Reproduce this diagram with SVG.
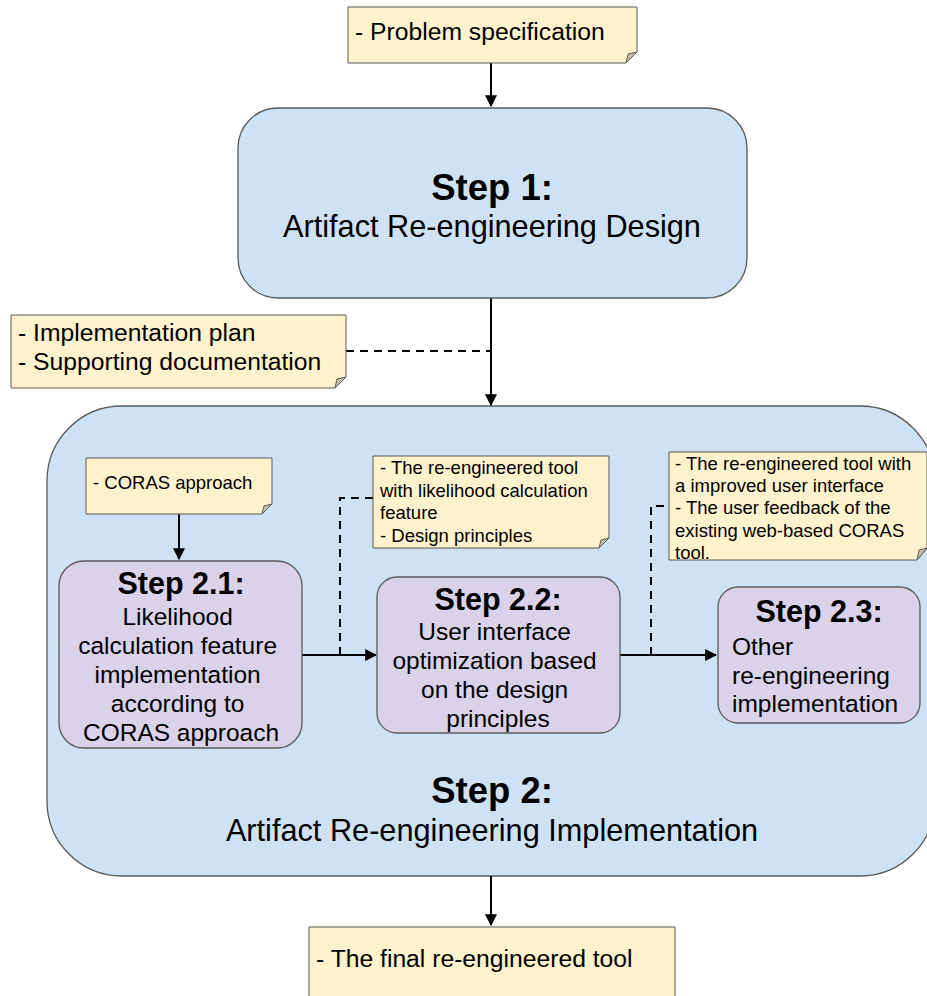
<svg xmlns="http://www.w3.org/2000/svg" width="927" height="996" viewBox="0 0 927 996">
  <style>
    text { font-family: "Liberation Sans", Arial, sans-serif; fill: #000; }
    .blue { fill: #cfe2f3; stroke: #595959; stroke-width: 1.3; }
    .purple { fill: #d9d2e9; stroke: #595959; stroke-width: 1.3; }
    .note { fill: #fff2cc; stroke: #595959; stroke-width: 1; }
    .fold { fill: #c9bfa3; stroke: #595959; stroke-width: 1; }
    .edge { fill: none; stroke: #000; stroke-width: 2; }
    .dash { fill: none; stroke: #000; stroke-width: 2; stroke-dasharray: 8 6; }
    .b { font-weight: bold; }
    .big { font-size: 24.7px; }
    .small { font-size: 18.5px; }
    .h1 { font-size: 36.5px; font-weight: bold; }
    .t1 { font-size: 30.7px; }
    .h2 { font-size: 30.5px; font-weight: bold; }
    .t2 { font-size: 24.5px; }
  </style>
  <defs>
    <marker id="arrow" viewBox="0 0 10 10" refX="9" refY="5" markerWidth="6" markerHeight="6" orient="auto" markerUnits="strokeWidth">
      <path d="M0,0 L10,5 L0,10 z" fill="#000"/>
    </marker>
  </defs>

  <rect width="927" height="996" fill="#fff"/>

  <!-- large container for step 2 -->
  <g id="step2">
    <rect class="blue" x="47" y="406" width="888" height="470" rx="75" ry="75"/>
    <text class="h1" x="492" y="803" text-anchor="middle">Step 2:</text>
    <text class="t1" x="492" y="841" text-anchor="middle">Artifact Re-engineering Implementation</text>
  </g>

  <g id="connectors">
    <path class="edge" d="M491,63 V106" marker-end="url(#arrow)"/>
    <path class="edge" d="M491,298 V405" marker-end="url(#arrow)"/>
    <path class="dash" d="M346,351 H490"/>
    <path class="edge" d="M179,514 V559" marker-end="url(#arrow)"/>
    <path class="edge" d="M302,655 H376" marker-end="url(#arrow)"/>
    <path class="dash" d="M340,655 V498 H373"/>
    <path class="edge" d="M620,655 H716" marker-end="url(#arrow)"/>
    <path class="dash" d="M651,655 V506 H669"/>
    <path class="edge" d="M491,876 V925" marker-end="url(#arrow)"/>
  </g>

  <g id="note-problem">
    <path class="note" d="M348,7 H637 V52 L626,63 H348 Z"/>
    <path class="fold" d="M637,52 L626,63 L628,54 Z"/>
    <text class="big" x="355" y="40">- Problem specification</text>
  </g>

  <g id="step1">
    <rect class="blue" x="238" y="108" width="509" height="190" rx="40" ry="40"/>
    <text class="h1" x="492" y="200" text-anchor="middle">Step 1:</text>
    <text class="t1" x="492" y="237" text-anchor="middle">Artifact Re-engineering Design</text>
  </g>

  <g id="note-plan">
    <path class="note" d="M11,315 H346 V377 L335,388 H11 Z"/>
    <path class="fold" d="M346,377 L335,388 L337,379 Z"/>
    <text class="big" x="18" y="341">- Implementation plan</text>
    <text class="big" x="18" y="370">- Supporting documentation</text>
  </g>

  <g id="note-coras">
    <path class="note" d="M86,458 H272 V504 L262,514 H86 Z"/>
    <path class="fold" d="M272,504 L262,514 L264,506 Z"/>
    <text class="small" x="93" y="489">- CORAS approach</text>
  </g>

  <g id="note-tool">
    <path class="note" d="M373,456 H609 V538 L599,548 H373 Z"/>
    <path class="fold" d="M609,538 L599,548 L601,540 Z"/>
    <text class="small">
      <tspan x="380" y="474">- The re-engineered tool</tspan>
      <tspan x="380" y="497">with likelihood calculation</tspan>
      <tspan x="380" y="519">feature</tspan>
      <tspan x="380" y="542">- Design principles</tspan>
    </text>
  </g>

  <g id="note-feedback">
    <path class="note" d="M669,452 H927 V548 L917,560 H669 Z"/>
    <path class="fold" d="M927,548 L917,560 L919,550 Z"/>
    <text class="small">
      <tspan x="675" y="470">- The re-engineered tool with</tspan>
      <tspan x="675" y="492">a improved user interface</tspan>
      <tspan x="675" y="514">- The user feedback of the</tspan>
      <tspan x="675" y="537">existing web-based CORAS</tspan>
      <tspan x="675" y="559">tool.</tspan>
    </text>
  </g>

  <g id="step2-1">
    <rect class="purple" x="59" y="561" width="243" height="187" rx="25" ry="25"/>
    <text class="h2" x="181" y="594" text-anchor="middle">Step 2.1:</text>
    <text class="t2" text-anchor="middle">
      <tspan x="181" y="625">Likelihood</tspan>
      <tspan x="181" y="654">calculation feature</tspan>
      <tspan x="181" y="683">implementation</tspan>
      <tspan x="181" y="712">according to</tspan>
      <tspan x="181" y="741">CORAS approach</tspan>
    </text>
  </g>

  <g id="step2-2">
    <rect class="purple" x="377" y="577" width="243" height="156" rx="20" ry="20"/>
    <text class="h2" x="498" y="610" text-anchor="middle">Step 2.2:</text>
    <text class="t2" text-anchor="middle">
      <tspan x="498" y="640">User interface</tspan>
      <tspan x="498" y="669">optimization based</tspan>
      <tspan x="498" y="698">on the design</tspan>
      <tspan x="498" y="727">principles</tspan>
    </text>
  </g>

  <g id="step2-3">
    <rect class="purple" x="718" y="587" width="202" height="136" rx="20" ry="20"/>
    <text class="h2" x="819" y="622" text-anchor="middle">Step 2.3:</text>
    <text class="t2">
      <tspan x="732" y="655">Other</tspan>
      <tspan x="732" y="684">re-engineering</tspan>
      <tspan x="732" y="712">implementation</tspan>
    </text>
  </g>

  <g id="note-final">
    <path class="note" d="M309,927 H675 V1007 L665,1017 H309 Z"/>
    <text class="big" x="316" y="967">- The final re-engineered tool</text>
  </g>
</svg>
